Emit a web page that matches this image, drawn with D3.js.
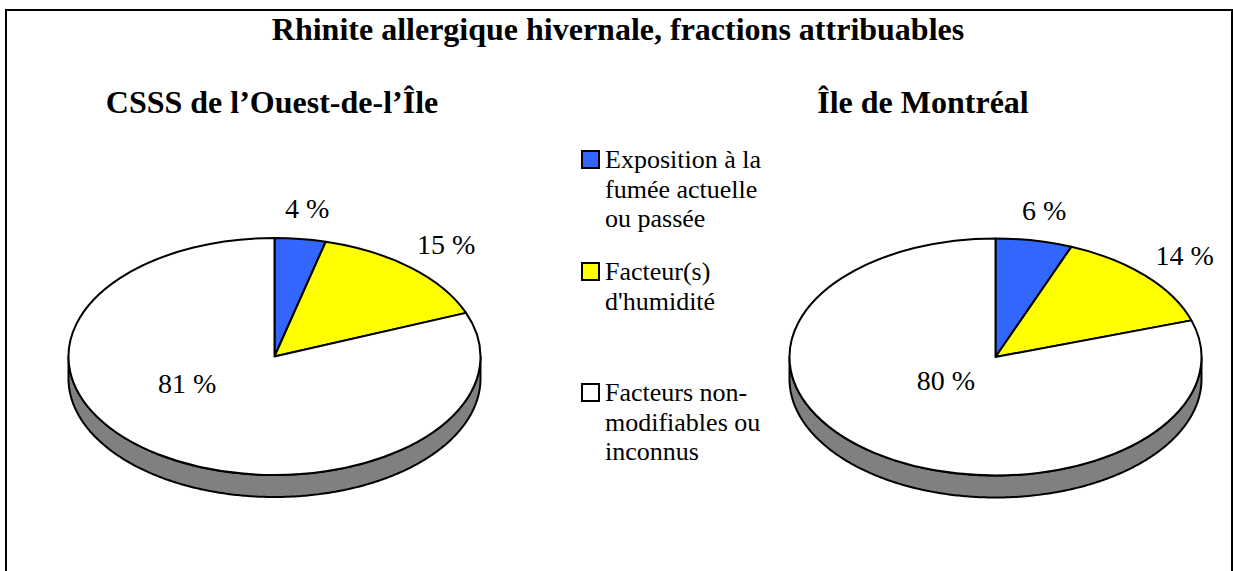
<!DOCTYPE html>
<html>
<head>
<meta charset="utf-8">
<script src="https://cdn.jsdelivr.net/npm/d3@7"></script>
<style>
  body { margin: 0; background: #fff; }
</style>
</head>
<body>
<div id="chart"></div>
<script>
// --- data ---
const titleText = 'Rhinite allergique hivernale, fractions attribuables';
const regions = ['CSSS de l’Ouest-de-l’Île', 'Île de Montréal'];
const categories = [
  'Exposition à la fumée actuelle ou passée',
  "Facteur(s) d'humidité",
  'Facteurs non-modifiables ou inconnus'
];
const legendLines = [
  ['Exposition à la', 'fumée actuelle', 'ou passée'],
  ['Facteur(s)', "d'humidité"],
  ['Facteurs non-', 'modifiables ou', 'inconnus']
];
const valuesOuest    = [4, 15, 81];
const valuesMontreal = [6, 14, 80];
const colors = ['#3366ff', '#ffff00', '#ffffff'];

// --- layout ---
const W = 1233, H = 571;
const rx = 206, ry = 118.5, depth = 22;
const serif = '"Liberation Serif"';
const pies = [
  { name: regions[0], values: valuesOuest,    cx: 274.5, cy: 356.5, titleX: 272, inside: { deg: 242, r: 0.48 } },
  { name: regions[1], values: valuesMontreal, cx: 995.5, cy: 357,   titleX: 923, inside: { deg: 231, r: 0.31 } }
];
const legendX = 582, legendBase = [168, 280, 401], lineH = 29.5, box = 17;

const svg = d3.select('#chart').append('svg')
  .attr('width', W).attr('height', H)
  .style('display', 'block');

svg.append('rect')
  .attr('x', 6).attr('y', 10)
  .attr('width', W - 7).attr('height', H)
  .attr('fill', '#fff').attr('stroke', '#000').attr('stroke-width', 2);

svg.append('text')
  .attr('x', 618).attr('y', 40)
  .attr('text-anchor', 'middle')
  .style('font-family', serif)
  .attr('font-size', 32).attr('font-weight', 'bold')
  .text(titleText);

const pie = d3.pie().sort(null).value(d => d);
const arc = d3.arc().innerRadius(0).outerRadius(rx);
const pct = d3.format('d');

// point on the top ellipse, angle measured clockwise from 12 o'clock
const pt = (p, a, k = 1, dy = 0) => [p.cx + k * rx * Math.sin(a), p.cy - k * ry * Math.cos(a) + dy];

pies.forEach(p => {
  const g = svg.append('g');
  const arcs = pie(p.values);

  g.append('text')
    .attr('x', p.titleX).attr('y', 113)
    .attr('text-anchor', 'middle')
    .style('font-family', serif)
    .attr('font-size', 32).attr('font-weight', 'bold')
    .text(p.name);

  // side wall (front half only)
  const line = d3.line();
  arcs.forEach((d, i) => {
    const s = Math.max(d.startAngle, Math.PI / 2);
    const e = Math.min(d.endAngle, 3 * Math.PI / 2);
    if (e <= s) return;
    const steps = d3.range(s, e, 0.01).concat([e]);
    const top = steps.map(a => pt(p, a));
    const bottom = steps.slice().reverse().map(a => pt(p, a, 1, depth));
    const c = d3.rgb(colors[i]);
    g.append('path')
      .attr('d', line(top.concat(bottom)) + 'Z')
      .attr('fill', d3.rgb(c.r * 0.5, c.g * 0.5, c.b * 0.5))
      .attr('stroke', '#000').attr('stroke-width', 2)
      .attr('stroke-linejoin', 'round');
  });

  // top face
  g.append('g')
    .attr('transform', `translate(${p.cx},${p.cy}) scale(1,${ry / rx})`)
    .selectAll('path')
    .data(arcs)
    .join('path')
      .attr('d', arc)
      .attr('fill', (d, i) => colors[i])
      .attr('stroke', '#000').attr('stroke-width', 2)
      .attr('stroke-linejoin', 'round')
      .attr('vector-effect', 'non-scaling-stroke');

  // labels
  g.selectAll('.lbl')
    .data(arcs)
    .join('text')
      .attr('class', 'lbl')
      .style('font-family', serif)
      .attr('font-size', 28)
      .attr('text-anchor', 'middle')
      .attr('dy', '0.35em')
      .attr('transform', d => {
        const big = d.endAngle - d.startAngle > Math.PI;
        const xy = big
          ? pt(p, p.inside.deg * Math.PI / 180, p.inside.r)
          : pt(p, (d.startAngle + d.endAngle) / 2, 1.26);
        return `translate(${xy[0]},${xy[1]})`;
      })
      .text(d => pct(d.data) + ' %');
});

// legend
const leg = svg.append('g').selectAll('g')
  .data(categories)
  .join('g')
    .attr('transform', (d, i) => `translate(${legendX},${legendBase[i]})`);

leg.append('rect')
  .attr('x', 0).attr('y', -box)
  .attr('width', box).attr('height', box)
  .attr('fill', (d, i) => colors[i])
  .attr('stroke', '#000').attr('stroke-width', 2);

leg.append('text')
  .attr('x', 23)
  .style('font-family', serif)
  .attr('font-size', 26)
  .selectAll('tspan')
  .data((d, i) => legendLines[i])
  .join('tspan')
    .attr('x', 23)
    .attr('dy', (d, j) => j === 0 ? 0 : lineH)
    .text(d => d);
</script>
</body>
</html>
